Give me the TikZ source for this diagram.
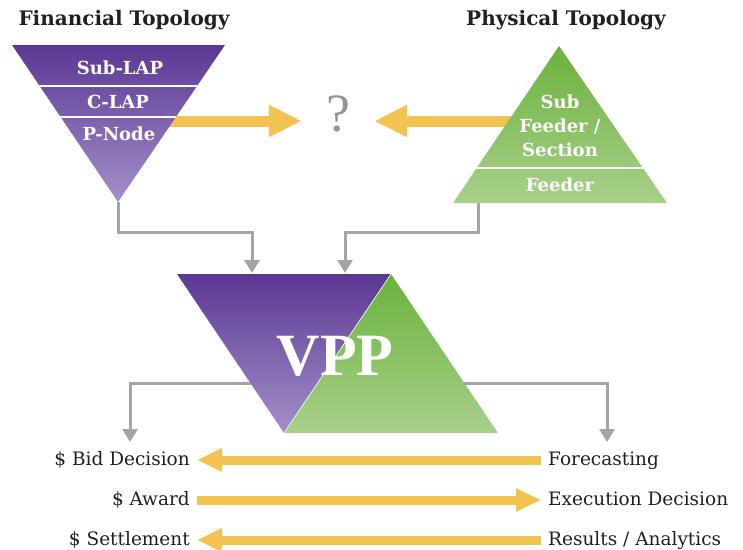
\documentclass[tikz,border=0pt]{standalone}
\usepackage{fontspec}
\setmainfont{Liberation Serif}
\newfontfamily\labelfont{DejaVu Serif}
\usetikzlibrary{arrows.meta}

\definecolor{purpletop}{HTML}{5B3893}
\definecolor{purplebot}{HTML}{A390C9}
\definecolor{greentop}{HTML}{6AB23C}
\definecolor{greenbot}{HTML}{A9D08B}
\definecolor{gold}{HTML}{F2C350}
\definecolor{connector}{HTML}{A3A4A7}
\definecolor{ink}{HTML}{231F20}
\definecolor{qgray}{HTML}{939598}

\tikzset{
  bigarrow/.style={gold, line width=11pt, -{Triangle[length=33pt,width=30pt]}},
  rowarrow/.style={gold, line width=9pt, -{Triangle[length=25pt,width=22pt]}},
  link/.style={connector, line width=3pt, -{Triangle[length=13pt,width=15pt]}},
  layer/.style={white, font=\labelfont\fontsize{18}{24}\selectfont\bfseries, align=center},
  title/.style={ink, font=\labelfont\fontsize{20}{24}\selectfont\bfseries},
  item/.style={ink, font=\labelfont\fontsize{18.5}{22}\selectfont, inner xsep=7pt,
    text height=14pt, text depth=4pt},
  cut/.style={white, line width=1.5pt}
}

\begin{document}
\begin{tikzpicture}[x=1pt,y=-1pt]
\useasboundingbox (0,0) rectangle (743,549);

\node[title] (fintitle) at (124,20) {Financial Topology};
\node[title] (phystitle) at (566,20) {Physical Topology};

\node[qgray, font=\fontsize{54}{58}\selectfont, minimum width=72pt] (q) at (338,114) {?};

% corners of the shapes
\coordinate (finTL) at (12,45);
\coordinate (finTR) at (225,45);
\coordinate (finApex) at (118,202);
\coordinate (physApex) at (559,46);
\coordinate (physBL) at (453,203);
\coordinate (physBR) at (667,203);
\coordinate (vppTL) at (177,274);
\coordinate (vppTR) at (391,274);
\coordinate (vppBL) at (284,433);
\coordinate (vppBR) at (498,433);

% arrows towards the question mark
\coordinate (finIn) at (160,121);
\coordinate (physIn) at (525,121);
\draw[bigarrow] (finIn) -- (finIn -| q.west);
\draw[bigarrow] (physIn) -- (physIn -| q.east);

% grey links
\coordinate (vppIn1) at (252,273);
\coordinate (vppIn2) at (345,273);
\coordinate (physOut) at (478,203);
\draw[link] (finApex) -- ++(0,30) -| (vppIn1);
\draw[link] (physOut) -- ++(0,29) -| (vppIn2);

\coordinate (vppW) at (262,383);
\coordinate (vppE) at (455,383);
\coordinate (outL) at (130,442);
\coordinate (outR) at (607,442);
\draw[link] (vppW) -| (outL);
\draw[link] (vppE) -| (outR);

% financial topology
\shade[top color=purpletop, bottom color=purplebot] (finTL) -- (finTR) -- (finApex) -- cycle;
\begin{scope}
\clip (finTL) -- (finTR) -- (finApex) -- cycle;
\draw[cut] (0,86) -- (260,86);
\draw[cut] (0,117) -- (260,117);
\end{scope}
\node[layer] (sublap) at (120,68) {Sub-LAP};
\node[layer] (clap) at (118,102) {C-LAP};
\node[layer] (pnode) at (119,134) {P-Node};

% physical topology
\shade[top color=greentop, bottom color=greenbot] (physApex) -- (physBR) -- (physBL) -- cycle;
\begin{scope}
\clip (physApex) -- (physBR) -- (physBL) -- cycle;
\draw[cut] (440,168) -- (680,168);
\end{scope}
\node[layer] (subfeeder) at (560,126) {Sub\\Feeder /\\Section};
\node[layer] (feeder) at (560,185) {Feeder};

% vpp
\shade[top color=purpletop, bottom color=purplebot] (vppTL) -- (vppTR) -- (vppBL) -- cycle;
\shade[top color=greentop, bottom color=greenbot] (vppTR) -- (vppBR) -- (vppBL) -- cycle;
\draw[white, line width=0.6pt] (vppTR) -- (vppBL);
\node[white, font=\fontsize{60}{62}\selectfont\bfseries] (vpp) at (335,356) {VPP};

% rows
\node[item, anchor=east] (bid) at (197,460) {\$ Bid Decision};
\node[item, anchor=west] (forecast) at (541,460) {Forecasting};
\node[item, anchor=east] (award) at (197,500) {\$ Award};
\node[item, anchor=west] (execution) at (541,500) {Execution Decision};
\node[item, anchor=east] (settle) at (197,540) {\$ Settlement};
\node[item, anchor=west] (results) at (541,540) {Results / Analytics};

\draw[rowarrow] (forecast.west) -- (bid.east);
\draw[rowarrow] (award.east) -- (execution.west);
\draw[rowarrow] (results.west) -- (settle.east);
\end{tikzpicture}
\end{document}
